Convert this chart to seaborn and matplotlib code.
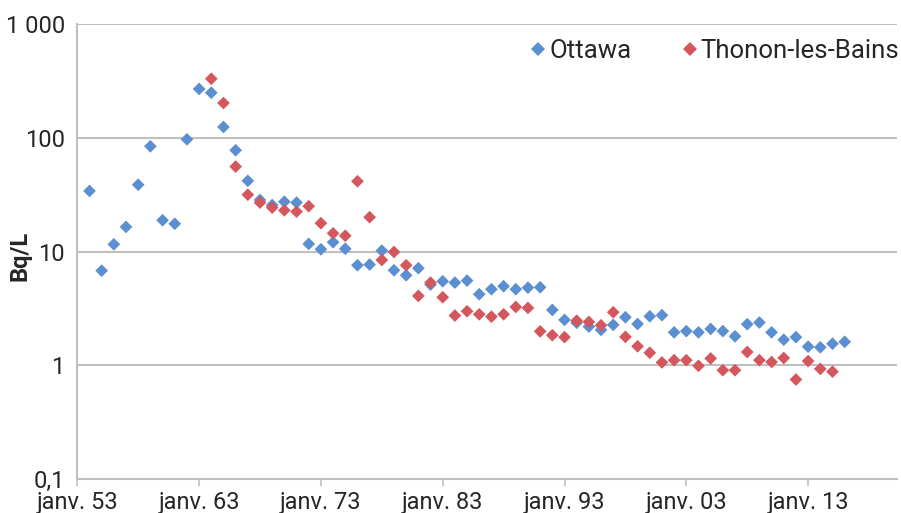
import numpy as np
import pandas as pd
import matplotlib
matplotlib.use("Agg")
import matplotlib.pyplot as plt
import seaborn as sns

# Activité (Bq/L), une valeur par année
annees_ottawa = list(range(1954, 2017))
ottawa = [34.2, 6.8, 11.6, 16.5, 38.8, 84.5, 18.9, 17.6, 97.3, 270,
          250, 125, 78, 42, 28.5, 25.7, 27.5, 27, 11.7, 10.5,
          12.1, 10.6, 7.6, 7.7, 10.2, 6.86, 6.2, 7.15, 5.13, 5.49,
          5.34, 5.56, 4.22, 4.67, 4.96, 4.67, 4.82, 4.86, 3.07, 2.51,
          2.37, 2.19, 2.05, 2.27, 2.65, 2.31, 2.70, 2.76, 1.95, 2.0,
          1.95, 2.09, 2.0, 1.80, 2.30, 2.38, 1.95, 1.68, 1.77, 1.46,
          1.44, 1.55, 1.61]

annees_thonon = list(range(1964, 2016))
thonon = [332, 203, 56, 31.7, 27, 24.4, 23.1, 22.5, 25.1, 17.8,
          14.5, 13.8, 41.6, 20.1, 8.45, 9.94, 7.59, 4.08, 5.34, 3.97,
          2.74, 2.99, 2.81, 2.68, 2.81, 3.26, 3.20, 1.99, 1.84, 1.77,
          2.47, 2.41, 2.25, 2.93, 1.78, 1.47, 1.29, 1.06, 1.11, 1.11,
          0.99, 1.15, 0.906, 0.906, 1.31, 1.11, 1.07, 1.16, 0.75, 1.09,
          0.93, 0.88]

ticks_annees = [1953, 1963, 1973, 1983, 1993, 2003, 2013]
ticks_labels = ["janv. 53", "janv. 63", "janv. 73", "janv. 83", "janv. 93", "janv. 03", "janv. 13"]
y_ticks = [0.1, 1, 10, 100, 1000]
y_labels = ["0,1", "1", "10", "100", "1 000"]

df = pd.concat([
    pd.DataFrame({"annee": annees_ottawa, "valeur": ottawa, "site": "Ottawa"}),
    pd.DataFrame({"annee": annees_thonon, "valeur": thonon, "site": "Thonon-les-Bains"}),
])

sns.set_theme(style="white")
plt.rcParams["font.family"] = ["Roboto", "DejaVu Sans"]

gris = "#BFBFBF"
texte = "#262626"
fig = plt.figure(figsize=(9.01, 5.13), dpi=100)
ax = fig.add_axes([0.0858, 0.0663, 0.9098, 0.8863])

sns.scatterplot(data=df, x="annee", y="valeur", hue="site",
                palette={"Ottawa": "#5B8FD1", "Thonon-les-Bains": "#D4575E"},
                marker="D", s=42, linewidth=0, ax=ax, zorder=3)

ax.set_yscale("log")
ax.set_ylim(0.1, 1000)
ax.set_xlim(1953, 2020.3)
ax.set_yticks(y_ticks)
ax.set_yticklabels(y_labels)
ax.yaxis.set_minor_locator(matplotlib.ticker.NullLocator())
ax.set_xticks(ticks_annees)
ax.set_xticklabels(ticks_labels)

ax.grid(axis="y", color=gris, linewidth=1.5)
ax.grid(axis="x", visible=False)
for cote in ["top", "right"]:
    ax.spines[cote].set_visible(False)
for cote in ["left", "bottom"]:
    ax.spines[cote].set_color(gris)
    ax.spines[cote].set_linewidth(1.5)

ax.tick_params(axis="y", length=0, pad=9, labelsize=17, labelcolor=texte)
ax.tick_params(axis="x", length=5, width=1.2, color=gris, direction="out",
               bottom=True, pad=3.5, labelsize=17, labelcolor=texte)

ax.set_xlabel("")
ax.set_ylabel("Bq/L", fontsize=17, fontweight="bold", color=texte)
ax.yaxis.set_label_coords(-0.056, 0.49)

leg = ax.legend(loc="upper right", bbox_to_anchor=(1.003, 0.968), ncol=2, frameon=False,
                fontsize=18.5, handlelength=0.55, handletextpad=0.15, columnspacing=2.0,
                borderaxespad=0, borderpad=0, markerscale=1.05)
for t in leg.get_texts():
    t.set_color(texte)

fig.savefig("out.png", dpi=100)
